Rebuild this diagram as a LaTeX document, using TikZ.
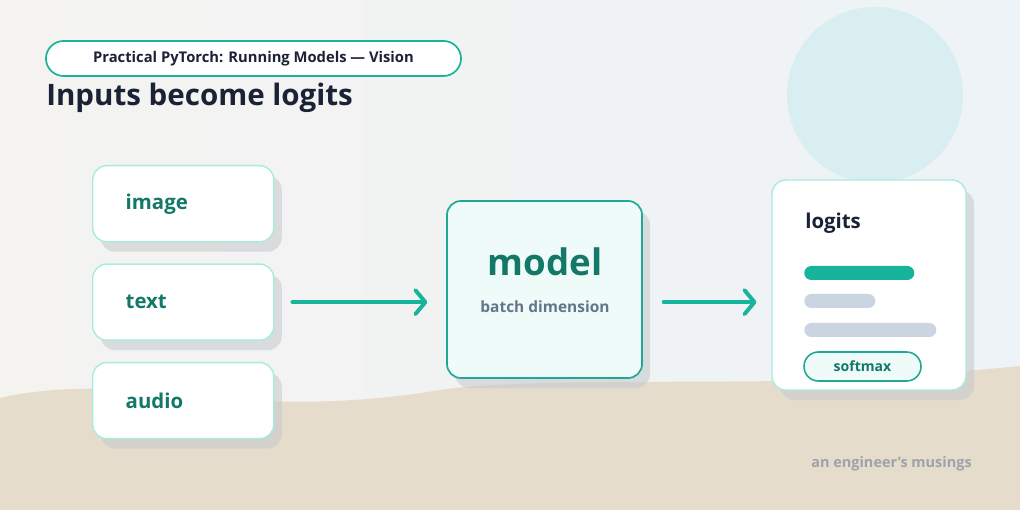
\documentclass[tikz,border=0pt]{standalone}
\usepackage{fontspec}
\setmainfont{Open Sans}
\usetikzlibrary{positioning,arrows.meta,shadows}

\definecolor{bgleft}{HTML}{F4F3F0}
\definecolor{bgright}{HTML}{EDF3F7}
\definecolor{sand}{HTML}{E6DCCB}
\definecolor{sun}{HTML}{D9EEF1}
\definecolor{mint}{HTML}{A6EDDC}
\definecolor{tealmid}{HTML}{17B39B}
\definecolor{tealline}{HTML}{1FA893}
\definecolor{tealdark}{HTML}{137867}
\definecolor{paletint}{HTML}{EEFBF9}
\definecolor{ink}{HTML}{1B2235}
\definecolor{slate}{HTML}{64748B}
\definecolor{greybar}{HTML}{CBD5E1}
\definecolor{footgray}{HTML}{9CA3AB}
\definecolor{shadowgray}{HTML}{C9CBCE}

\begin{document}
\begin{tikzpicture}[
	x=0.025cm,y=-0.025cm,
	font=\bfseries,
	karte/.style={
	draw=mint,line width=1pt,fill=white,rounded corners=0.35cm,
	drop shadow={shadow xshift=0.2cm,shadow yshift=-0.25cm,fill=shadowgray,opacity=0.6},
	},
	inbox/.style={
	karte,text width=2.875cm,inner xsep=0.825cm,minimum height=1.9cm,
	align=left,font=\fontsize{14.5}{16}\selectfont\bfseries,text=tealdark,
	},
	balken/.style={
	rounded corners=0.175cm,minimum height=0.35cm,inner sep=0pt,anchor=west,
	},
	linie/.style={
	draw=tealmid,line width=2.8pt,line cap=round,
	-{Straight Barb[length=0.25cm,width=0.6cm,line width=2.8pt,round]},
	}
	]

% background
\useasboundingbox (0,0) rectangle (1020,510);
\shade[left color=bgleft,right color=bgright] (0,0) rectangle (1020,510);
\fill[sun] (875,95) circle (88);
\fill[sand] (0,398) .. controls (50,386) and (120,386) .. (200,396)
	.. controls (270,404) and (350,405) .. (440,390)
	.. controls (520,378) and (700,384) .. (820,380)
	.. controls (900,377) and (980,370) .. (1020,366)
	-- (1020,510) -- (0,510) -- cycle;

% header
\node[draw=tealmid,line width=1.2pt,fill=white,rounded corners=0.44cm,
	minimum width=10.375cm,minimum height=0.875cm,
	font=\fontsize{10.5}{12}\selectfont\bfseries,text=ink] (reihe) at (253.5,58.5)
	{Practical PyTorch: Running Models — Vision};
\node[anchor=west,inner sep=0pt,font=\fontsize{21}{24}\selectfont\bfseries,text=ink]
	(titel) at (46,98) {Inputs become logits};

% inputs
\node[inbox,anchor=north west] (image) at (92,165) {image};
\node[inbox,below=0.525cm of image] (text) {text};
\node[inbox,below=0.525cm of text] (audio) {audio};

% model
\node[karte,draw=tealline,fill=paletint,line width=1.2pt,
	minimum width=4.875cm,minimum height=4.425cm] (model) at (544.5,289.5) {};
\node[font=\fontsize{26}{28}\selectfont\bfseries,text=tealdark] (modelname) at (545,262) {model};
\node[font=\fontsize{11}{13}\selectfont\bfseries,text=slate] (batch) at (545,307) {batch dimension};

% logits
\node[karte,minimum width=4.85cm,minimum height=5.25cm] (logits) at (869,285) {};
\node[anchor=west,inner sep=0pt,font=\fontsize{14.5}{16}\selectfont\bfseries,text=ink]
	(logitsname) at (805,223) {logits};
\node[balken,fill=tealmid,minimum width=2.75cm] (balken1) at (804,273) {};
\node[balken,fill=greybar,minimum width=1.775cm] (balken2) at (804,301) {};
\node[balken,fill=greybar,minimum width=3.3cm] (balken3) at (804,330) {};
\node[draw=tealline,line width=1.1pt,fill=paletint,rounded corners=0.36cm,
	minimum width=2.925cm,minimum height=0.725cm,inner sep=0pt,
	font=\fontsize{10}{12}\selectfont\bfseries,text=tealdark] (softmax) at (862.5,366.5) {softmax};

% footer
\node[anchor=east,inner sep=0pt,font=\fontsize{10.3}{12}\selectfont\bfseries,text=footgray]
	(fuss) at (972,464) {an engineer's musings};

\draw [linie,shorten <=0.45cm,shorten >=0.47cm] (text.east) to (text.east -| model.west);
\draw [linie,shorten <=0.52cm,shorten >=0.37cm] (model.east |- text.east) to (logits.west |- text.east);

\end{tikzpicture}
\end{document}
